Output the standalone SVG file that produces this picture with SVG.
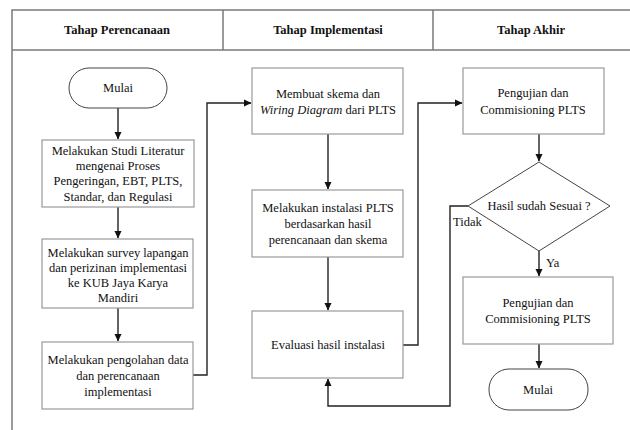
<svg xmlns="http://www.w3.org/2000/svg" width="630" height="430" viewBox="0 0 630 430" font-family="Liberation Serif">
<defs>
<marker id="ah" markerWidth="8" markerHeight="8" refX="7" refY="4" orient="auto" markerUnits="userSpaceOnUse">
<path d="M0,0.5 L7.5,4 L0,7.5 Z" fill="#111"/>
</marker>
</defs>
<style>
.frame{fill:none;stroke:#7a7a7a;stroke-width:1.5}
.box{fill:#fff;stroke:#999;stroke-width:1.2}
.term{fill:#fff;stroke:#444;stroke-width:1}
.con{fill:none;stroke:#222;stroke-width:1.4}
text{font-family:'Liberation Serif',serif !important;font-size:12.5px;fill:#111;text-anchor:middle}
text.h{font-weight:bold}
text.l{text-anchor:start}
</style>
<rect width="630" height="430" fill="#fff"/>
<g id="table">
<path class="frame" d="M640,10 H12 V430 M12,50 H640 M223,10 V50 M433,10 V50"/>
<text class="h" x="117" y="34">Tahap Perencanaan</text>
<text class="h" x="328" y="34">Tahap Implementasi</text>
<text class="h" x="531" y="34">Tahap Akhir</text>
</g>
<g id="connectors">
<path class="con" d="M118,108 V139" marker-end="url(#ah)"/>
<path class="con" d="M118,207 V238" marker-end="url(#ah)"/>
<path class="con" d="M118,308 V341" marker-end="url(#ah)"/>
<path class="con" d="M193,375 H207 V103 H251" marker-end="url(#ah)"/>
<path class="con" d="M328,134 V189" marker-end="url(#ah)"/>
<path class="con" d="M328,257 V310" marker-end="url(#ah)"/>
<path class="con" d="M403,345 H418 V103 H462" marker-end="url(#ah)"/>
<path class="con" d="M539,134 V161" marker-end="url(#ah)"/>
<path class="con" d="M468,206 H450 V406 H328 V379" marker-end="url(#ah)"/>
<path class="con" d="M539,251 V276" marker-end="url(#ah)"/>
<path class="con" d="M539,344 V368" marker-end="url(#ah)"/>
<text class="l" x="453" y="226">Tidak</text>
<text class="l" x="546" y="267">Ya</text>
</g>
<g id="start">
<rect class="term" x="69" y="68" width="98" height="40" rx="20" ry="20"/>
<text x="118" y="92">Mulai</text>
</g>
<g id="studi">
<rect class="box" x="42" y="140" width="152" height="67"/>
<text x="118" y="155">Melakukan Studi Literatur</text>
<text x="118" y="170">mengenai Proses</text>
<text x="118" y="185">Pengeringan, EBT, PLTS,</text>
<text x="118" y="201">Standar, dan Regulasi</text>
</g>
<g id="survey">
<rect class="box" x="42" y="239" width="151" height="69"/>
<text x="118" y="257">Melakukan survey lapangan</text>
<text x="118" y="272">dan perizinan implementasi</text>
<text x="118" y="287">ke KUB Jaya Karya</text>
<text x="118" y="302">Mandiri</text>
</g>
<g id="olah">
<rect class="box" x="42" y="342" width="151" height="67"/>
<text x="118" y="364">Melakukan pengolahan data</text>
<text x="118" y="380">dan perencanaan</text>
<text x="118" y="396">implementasi</text>
</g>
<g id="skema">
<rect class="box" x="252" y="68" width="151" height="66"/>
<text x="328" y="98">Membuat skema  dan</text>
<text x="328" y="114"><tspan font-style="italic">Wiring Diagram</tspan> dari PLTS</text>
</g>
<g id="instalasi">
<rect class="box" x="252" y="190" width="151" height="67"/>
<text x="328" y="212">Melakukan instalasi PLTS</text>
<text x="328" y="228">berdasarkan hasil</text>
<text x="328" y="244">perencanaan dan skema</text>
</g>
<g id="evaluasi">
<rect class="box" x="252" y="311" width="151" height="67"/>
<text x="328" y="349">Evaluasi hasil instalasi</text>
</g>
<g id="pengujian1">
<rect class="box" x="463" y="68" width="141" height="66"/>
<text x="533" y="97">Pengujian dan</text>
<text x="533" y="114">Commisioning PLTS</text>
</g>
<g id="decision">
<polygon points="539,162 610,206 539,251 468,206" fill="#fff" stroke="#444" stroke-width="1"/>
<text x="539" y="210">Hasil sudah Sesuai ?</text>
</g>
<g id="pengujian2">
<rect class="box" x="463" y="277" width="150" height="67"/>
<text x="538" y="307">Pengujian dan</text>
<text x="538" y="323">Commisioning PLTS</text>
</g>
<g id="end">
<rect class="term" x="489" y="369" width="99" height="41" rx="20" ry="20"/>
<text x="538" y="394">Mulai</text>
</g>
</svg>
